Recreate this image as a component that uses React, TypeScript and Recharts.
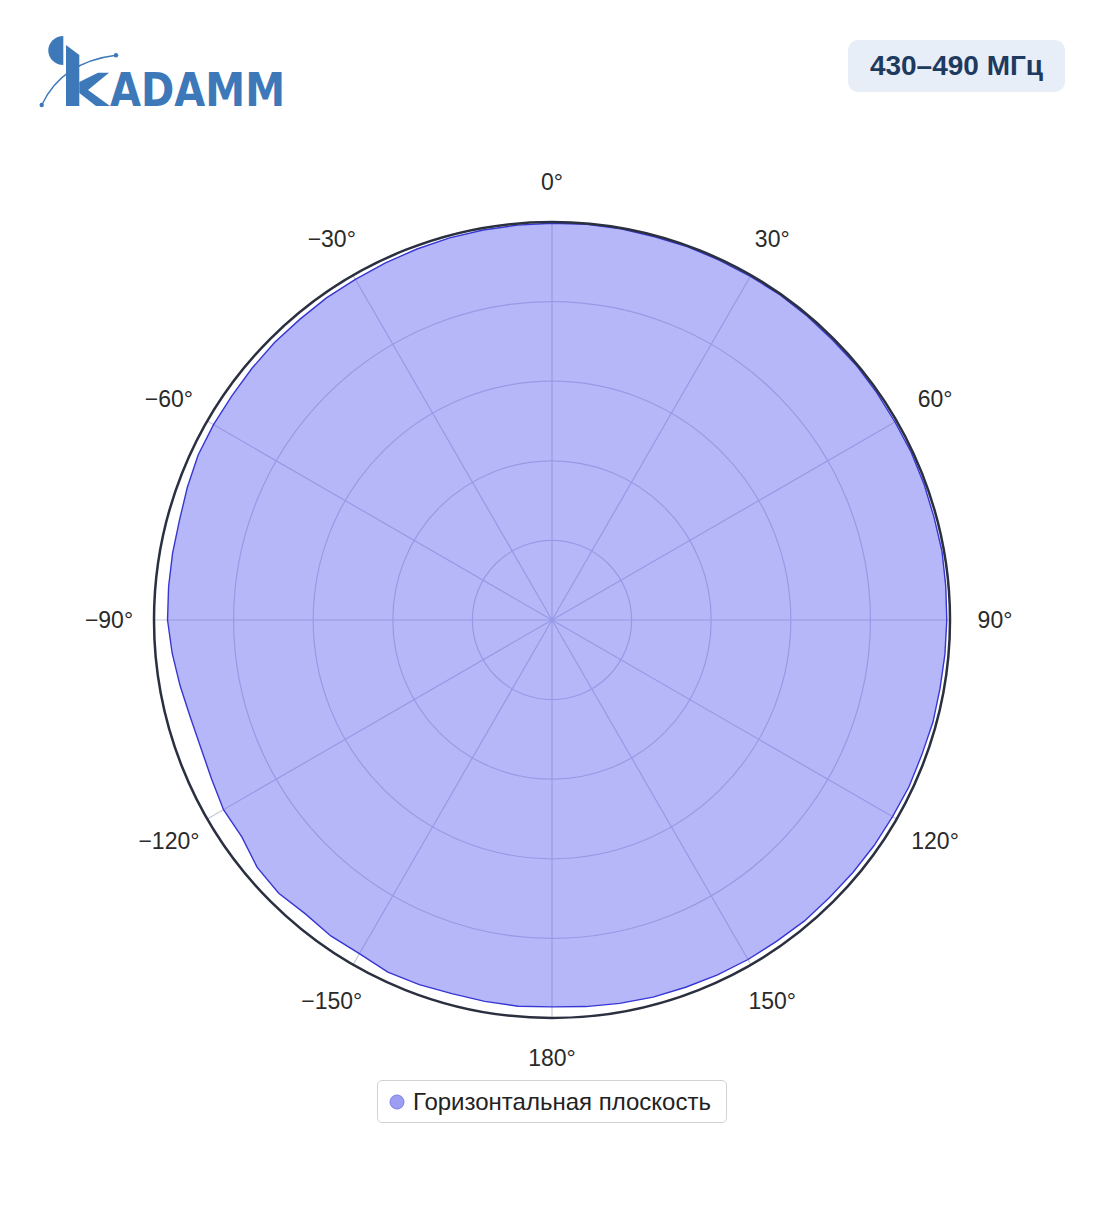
import React from 'react';
import { RadarChart, Radar, PolarGrid, PolarAngleAxis, PolarRadiusAxis, Legend } from 'recharts';

// azimuth, degrees clockwise from the top
const ANGLES = [
  0, 5, 10, 15, 20, 25, 30, 35, 40, 45, 50, 55, 60, 65, 70, 75, 80, 85,
  90, 95, 100, 105, 110, 115, 120, 125, 130, 135, 140, 145, 150, 155, 160, 165, 170, 175,
  180, 185, 190, 195, 200, 205, 210, 215, 220, 225, 230, 235, 240, 245, 250, 255, 260, 265,
  270, 275, 280, 285, 290, 295, 300, 305, 310, 315, 320, 325, 330, 335, 340, 345, 350, 355,
];

// normalised field level
const GAIN = [
  0.997, 0.998, 0.998, 0.997, 0.998, 0.997, 0.997, 0.998, 0.997, 0.996, 0.997, 0.996,
  0.995, 0.996, 0.995, 0.994, 0.995, 0.993, 0.992, 0.991, 0.99, 0.991, 0.989, 0.99,
  0.988, 0.988, 0.987, 0.986, 0.987, 0.985, 0.985, 0.984, 0.982, 0.981, 0.978, 0.975,
  0.972, 0.974, 0.973, 0.972, 0.975, 0.976, 0.968, 0.969, 0.964, 0.971, 0.967, 0.951,
  0.953, 0.944, 0.939, 0.941, 0.949, 0.958, 0.966, 0.967, 0.968, 0.969, 0.975, 0.981,
  0.982, 0.982, 0.984, 0.986, 0.986, 0.988, 0.988, 0.99, 0.992, 0.994, 0.995, 0.996,
];

const LABEL_DEGS = [0, 30, 60, 90, 120, 150, 180, 210, 240, 270, 300, 330];
const RADIUS_DOMAIN = [0, 1];
const RADIUS_TICKS = [0.2, 0.4, 0.6, 0.8, 1];
const SERIES_NAME = 'Горизонтальная плоскость';
const BAND_LABEL = '430–490 МГц';

const data = ANGLES.map((deg, i) => ({ deg, gain: GAIN[i] }));

const W = 1104;
const H = 1211;
const CX = 552;
const CY = 620;
const OUTER_R = 398;
const FONT = '"Liberation Sans", Arial, Helvetica, sans-serif';

const fmtDeg = (deg: number) => (deg > 180 ? `\u2212${360 - deg}°` : `${deg}°`);

const AngleTick = (props: any) => {
  const { payload } = props;
  const deg = Number(payload.value);
  if (!LABEL_DEGS.includes(deg)) return <g />;
  const rad = (payload.coordinate * Math.PI) / 180;
  const r = OUTER_R + 40 + 5 * Math.abs(Math.cos(rad));
  return (
    <text
      x={CX + r * Math.cos(rad)}
      y={CY - r * Math.sin(rad)}
      textAnchor="middle"
      dominantBaseline="central"
      fill="#2a2a2a"
      fontSize={23}
      fontFamily={FONT}
    >
      {fmtDeg(deg)}
    </text>
  );
};

const LegendBox = (props: any) => {
  const items = props.payload || [];
  return (
    <div
      style={{
        boxSizing: 'border-box',
        width: 350,
        height: 43,
        border: '1px solid #d2d2d2',
        borderRadius: 5,
        background: '#fff',
        display: 'flex',
        alignItems: 'center',
        paddingLeft: 11,
        fontFamily: FONT,
        fontSize: 24,
        color: '#222',
      }}
    >
      {items.map((it: any) => (
        <span key={it.value} style={{ display: 'flex', alignItems: 'center' }}>
          <svg width={16} height={16} style={{ marginRight: 8 }}>
            <circle cx={8} cy={8} r={7} fill="#9c9ef3" stroke="#7b7ee6" strokeWidth={1} />
          </svg>
          {it.value}
        </span>
      ))}
    </div>
  );
};

const Logo = () => (
  <svg width={360} height={90} style={{ position: 'absolute', left: 0, top: 30 }} viewBox="0 30 360 90">
    <g fill="#3d78b9">
      <path d="M 63.3 36 A 15 14.5 0 0 0 63.3 65 Z" />
      <path d="M 66 45 L 79.3 55 L 79.3 106 L 66 106 Z" />
      <path d="M 79.3 82 L 98 72.7 L 109 72.7 L 88 90 L 110 106 L 96 106 L 79.3 93 Z" />
      <text
        x={110}
        y={106}
        fontFamily='"DejaVu Sans", sans-serif'
        fontWeight={700}
        fontSize={46}
        textLength={175}
        lengthAdjust="spacingAndGlyphs"
      >
        ADAMM
      </text>
      <circle cx={41.7} cy={105} r={2.2} />
      <circle cx={116} cy={55.3} r={2.2} />
    </g>
    <path d="M 41.7 105 Q 62 62 116 55.3" fill="none" stroke="#3d78b9" strokeWidth={1.4} />
  </svg>
);

export default function App() {
  return (
    <div style={{ position: 'absolute', left: 0, top: 0, width: W, height: H, background: '#fff', overflow: 'hidden' }}>
      <RadarChart width={W} height={H} data={data} cx={CX} cy={CY} outerRadius={OUTER_R} margin={{ top: 0, right: 0, bottom: 0, left: 0 }}>
        <PolarGrid
          gridType="circle"
          polarAngles={LABEL_DEGS.map((d) => 90 - d)}
          polarRadius={RADIUS_TICKS.map((t) => t * OUTER_R)}
          stroke="#c4c7dc"
          strokeWidth={1.2}
        />
        <PolarRadiusAxis domain={RADIUS_DOMAIN} tickCount={6} tick={false} axisLine={false} />
        <Radar
          name={SERIES_NAME}
          dataKey="gain"
          stroke="#3636d2"
          strokeWidth={1.4}
          fill="#6366f1"
          fillOpacity={0.47}
          dot={false}
          isAnimationActive={false}
        />
        <PolarAngleAxis
          dataKey="deg"
          axisLineType="circle"
          axisLine={{ stroke: '#2b3040', strokeWidth: 2.5 }}
          tickLine={false}
          tick={<AngleTick />}
        />
        <Legend
          content={<LegendBox />}
          wrapperStyle={{ left: 377, top: 1080, bottom: 'auto', width: 350, height: 43 }}
        />
      </RadarChart>
      <Logo />
      <div
        style={{
          position: 'absolute',
          left: 848,
          top: 40,
          width: 217,
          height: 52,
          borderRadius: 10,
          background: '#e8eef7',
          display: 'flex',
          alignItems: 'center',
          justifyContent: 'center',
          fontFamily: FONT,
          fontWeight: 700,
          fontSize: 28,
          color: '#1e3a5f',
        }}
      >
        {BAND_LABEL}
      </div>
    </div>
  );
}
